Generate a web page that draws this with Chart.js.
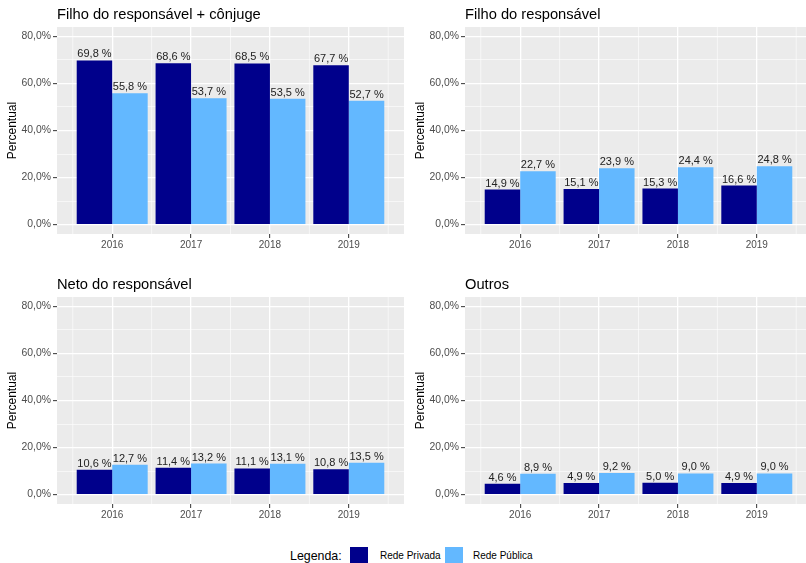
<!DOCTYPE html>
<html>
<head>
<meta charset="utf-8">
<script src="https://cdn.jsdelivr.net/npm/chart.js@4/dist/chart.umd.min.js"></script>
<style>
  html, body { margin: 0; padding: 0; background: #fff; width: 806px; height: 563px; overflow: hidden; }
  body { position: relative; font-family: "Liberation Sans", Arial, sans-serif; }
  .panel { position: absolute; width: 404px; height: 262px; }
  .lg { position: absolute; white-space: nowrap; color: #000; line-height: 1; }
  .ttl { font-size: 12.4px; left: 290px; top: 550px; }
  .sw { width: 18px; height: 18px; top: 547px; }
  .lb { font-size: 10px; top: 551px; }
</style>
</head>
<body>
<div class="panel" style="left:0;top:0"><canvas id="c1"></canvas></div>
<div class="panel" style="left:408px;top:0"><canvas id="c2"></canvas></div>
<div class="panel" style="left:0;top:270px"><canvas id="c3"></canvas></div>
<div class="panel" style="left:408px;top:270px"><canvas id="c4"></canvas></div>
<span class="lg ttl">Legenda:</span>
<span class="lg sw" style="left:350px;background:#00008B"></span><span class="lg lb" style="left:380px">Rede Privada</span>
<span class="lg sw" style="left:445px;background:#63B8FF"></span><span class="lg lb" style="left:473px">Rede Pública</span>
<script>
// dados (percentuais)
const anos = [2016, 2017, 2018, 2019];
const titulos = ['Filho do responsável + cônjuge', 'Filho do responsável', 'Neto do responsável', 'Outros'];
const privadaFilhoConjuge = [69.8, 68.6, 68.5, 67.7];
const publicaFilhoConjuge = [55.8, 53.7, 53.5, 52.7];
const privadaFilho = [14.9, 15.1, 15.3, 16.6];
const publicaFilho = [22.7, 23.9, 24.4, 24.8];
const privadaNeto = [10.6, 11.4, 11.1, 10.8];
const publicaNeto = [12.7, 13.2, 13.1, 13.5];
const privadaOutros = [4.6, 4.9, 5.0, 4.9];
const publicaOutros = [8.9, 9.2, 9.0, 9.0];
const yTicks = [0, 10, 20, 30, 40, 50, 60, 70, 80];
const xMinor = [2015.5, 2016.5, 2017.5, 2018.5, 2019.5];

const FONT = '"Liberation Sans", Arial, sans-serif';
const fmtPct = (v) => v.toFixed(1).replace('.', ',');
const isMajorY = (c) => !!c.tick && c.tick.value % 20 === 0;

const painelFundo = {
  id: 'painelFundo',
  beforeDraw(chart) {
    const a = chart.chartArea, ctx = chart.ctx;
    ctx.save();
    ctx.fillStyle = '#EBEBEB';
    ctx.fillRect(a.left, a.top, a.right - a.left, a.bottom - a.top);
    ctx.restore();
  },
  // linhas secundárias verticais entre os anos
  beforeDatasetsDraw(chart) {
    const a = chart.chartArea, ctx = chart.ctx, sx = chart.scales.x;
    ctx.save();
    ctx.strokeStyle = '#fff';
    ctx.lineWidth = 0.6;
    xMinor.forEach((v) => {
      const px = sx.getPixelForValue(v);
      ctx.beginPath();
      ctx.moveTo(px, a.top);
      ctx.lineTo(px, a.bottom);
      ctx.stroke();
    });
    ctx.restore();
  },
};

const painelTitulo = {
  id: 'painelTitulo',
  afterDraw(chart, args, opts) {
    const ctx = chart.ctx;
    ctx.save();
    ctx.font = '14.7px ' + FONT;
    ctx.fillStyle = '#000';
    ctx.textAlign = 'left';
    ctx.textBaseline = 'alphabetic';
    ctx.fillText(opts.text, chart.chartArea.left, chart.chartArea.top - 8.5);
    ctx.restore();
  },
};

const rotulos = {
  id: 'rotulos',
  afterDatasetsDraw(chart) {
    const ctx = chart.ctx;
    ctx.save();
    ctx.font = '11px ' + FONT;
    ctx.fillStyle = '#222';
    ctx.textAlign = 'center';
    ctx.textBaseline = 'alphabetic';
    chart.data.datasets.forEach((ds, i) => {
      chart.getDatasetMeta(i).data.forEach((bar, j) => {
        ctx.fillText(fmtPct(ds.data[j].y) + ' %', bar.x, bar.y - 3);
      });
    });
    ctx.restore();
  },
};

function painel(id, titulo, privada, publica) {
  new Chart(document.getElementById(id), {
    type: 'bar',
    data: {
      datasets: [
        { label: 'Rede Privada', data: anos.map((a, i) => ({ x: a, y: privada[i] })), backgroundColor: '#00008B' },
        { label: 'Rede Pública', data: anos.map((a, i) => ({ x: a, y: publica[i] })), backgroundColor: '#63B8FF' },
      ],
    },
    options: {
      responsive: false,
      animation: false,
      layout: { padding: { top: 27, right: 0, bottom: 0, left: 0 } },
      categoryPercentage: 0.9,
      barPercentage: 1.0,
      plugins: {
        legend: { display: false },
        tooltip: { enabled: false },
        painelTitulo: { text: titulo },
      },
      scales: {
        x: {
          type: 'linear', min: 2015.3, max: 2019.7, offset: false,
          afterBuildTicks: (s) => { s.ticks = anos.map((v) => ({ value: v })); },
          afterFit: (s) => { s.height = 28; },
          border: { display: false },
          grid: { offset: false, color: '#fff', lineWidth: 1.3, tickColor: '#333', tickLength: 4, tickWidth: 1 },
          ticks: {
            autoSkip: false, maxRotation: 0, padding: 1.5, color: '#4D4D4D',
            font: { family: FONT, size: 10 },
            callback: (v) => String(v),
          },
        },
        y: {
          min: -4, max: 84,
          afterBuildTicks: (s) => { s.ticks = yTicks.map((v) => ({ value: v })); },
          afterFit: (s) => { s.width = 57; },
          border: { display: false },
          grid: {
            color: '#fff',
            lineWidth: (c) => (isMajorY(c) ? 1.3 : 0.6),
            tickColor: (c) => (isMajorY(c) ? '#333' : 'rgba(0,0,0,0)'),
            tickLength: 4, tickWidth: 1,
          },
          ticks: {
            padding: 2, color: '#4D4D4D',
            font: { family: FONT, size: 10.4 },
            callback: (v) => (v % 20 === 0 ? fmtPct(v) + '%' : ''),
          },
          title: {
            display: true, text: 'Percentual', color: '#000',
            font: { family: FONT, size: 12 }, padding: { top: 5.5, bottom: 0 },
          },
        },
      },
    },
    plugins: [painelFundo, painelTitulo, rotulos],
  });
}

function montar() {
  ['c1', 'c2', 'c3', 'c4'].forEach((id) => {
    const c = document.getElementById(id);
    c.width = 404; c.height = 262;
  });
  painel('c1', titulos[0], privadaFilhoConjuge, publicaFilhoConjuge);
  painel('c2', titulos[1], privadaFilho, publicaFilho);
  painel('c3', titulos[2], privadaNeto, publicaNeto);
  painel('c4', titulos[3], privadaOutros, publicaOutros);
}
montar();
</script>
</body>
</html>
